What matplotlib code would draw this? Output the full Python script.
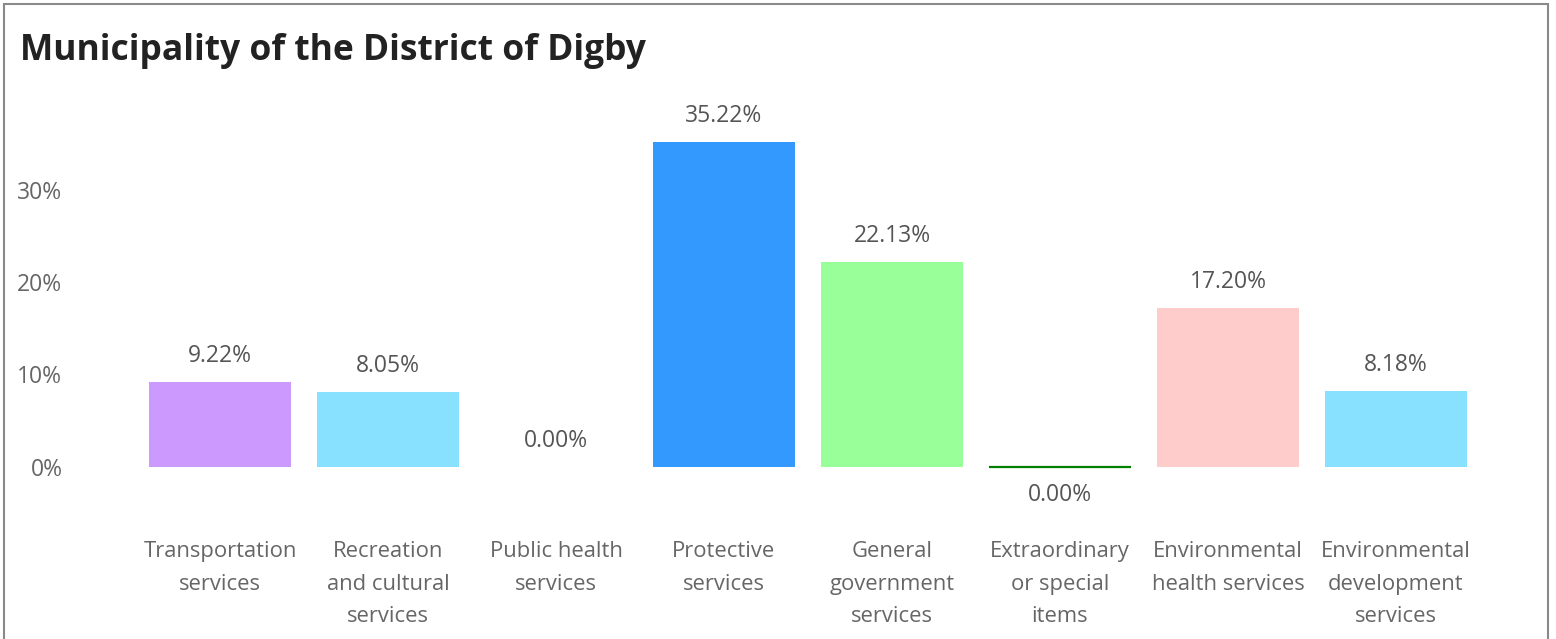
import matplotlib
matplotlib.use("Agg")
import matplotlib.pyplot as plt
from matplotlib.patches import Rectangle

plt.rcParams['font.family'] = ['Open Sans', 'DejaVu Sans']

title = "Municipality of the District of Digby"
categories = ["Transportation\nservices", "Recreation\nand cultural\nservices",
              "Public health\nservices", "Protective\nservices",
              "General\ngovernment\nservices", "Extraordinary\nor special\nitems",
              "Environmental\nhealth services", "Environmental\ndevelopment\nservices"]
values = [9.22, 8.05, 0.0, 35.22, 22.13, -0.001, 17.20, 8.18]
colors = ["#CC99FF", "#88E2FF", "#66CC66", "#3399FF", "#99FF99", "#008000", "#FFCCCC", "#88E2FF"]
yticks = [0, 10, 20, 30]
ytick_labels = ["0%", "10%", "20%", "30%"]

W, H = 1556, 639
fig = plt.figure(figsize=(W / 100, H / 100), dpi=100)

# frame
fig.add_artist(Rectangle((4 / W, -0.05), (1548 - 4) / W, (H - 4) / H + 0.05,
                         transform=fig.transFigure, fill=False,
                         edgecolor="#8a8a8a", linewidth=1.5))

ax_left, ax_right = 136, 1480
ax_top, ax_bot = 116, 476
ax = fig.add_axes([ax_left / W, (H - ax_bot) / H, (ax_right - ax_left) / W, (ax_bot - ax_top) / H])

x = list(range(len(categories)))
bars = ax.bar(x, values, width=0.84, color=colors, linewidth=0)
# tiny negative value: draw a thin outline so it is visible
for b, v, c in zip(bars, values, colors):
    if v < 0:
        b.set_edgecolor(c)
        b.set_linewidth(1.6)
ax.set_xlim(-0.5, len(categories) - 0.5)
ax.set_ylim(-1, 38)

for xi, v in zip(x, values):
    off = 26 if v >= 0 else -28
    ax.annotate(f"{round(v, 2) + 0.0:.2f}%", (xi, v), xytext=(0, off * 0.72),
                textcoords="offset points", ha="center", va="center",
                fontsize=16.5, color="#555555")

ax.set_yticks(yticks)
ax.set_yticklabels(ytick_labels)
ax.set_xticks(x)
ax.set_xticklabels(categories, linespacing=1.72)
ax.tick_params(axis="y", length=0, pad=53, labelsize=16.5, labelcolor="#666666")
ax.tick_params(axis="x", length=0, pad=47, labelsize=15.8, labelcolor="#666666")
for lbl in ax.get_yticklabels():
    lbl.set_horizontalalignment("right")
for s in ax.spines.values():
    s.set_visible(False)

fig.text(20 / W, 1 - 51 / H, title, fontsize=25.5, fontweight="bold", color="#222222",
         ha="left", va="center")

fig.savefig("out.png", dpi=100)
